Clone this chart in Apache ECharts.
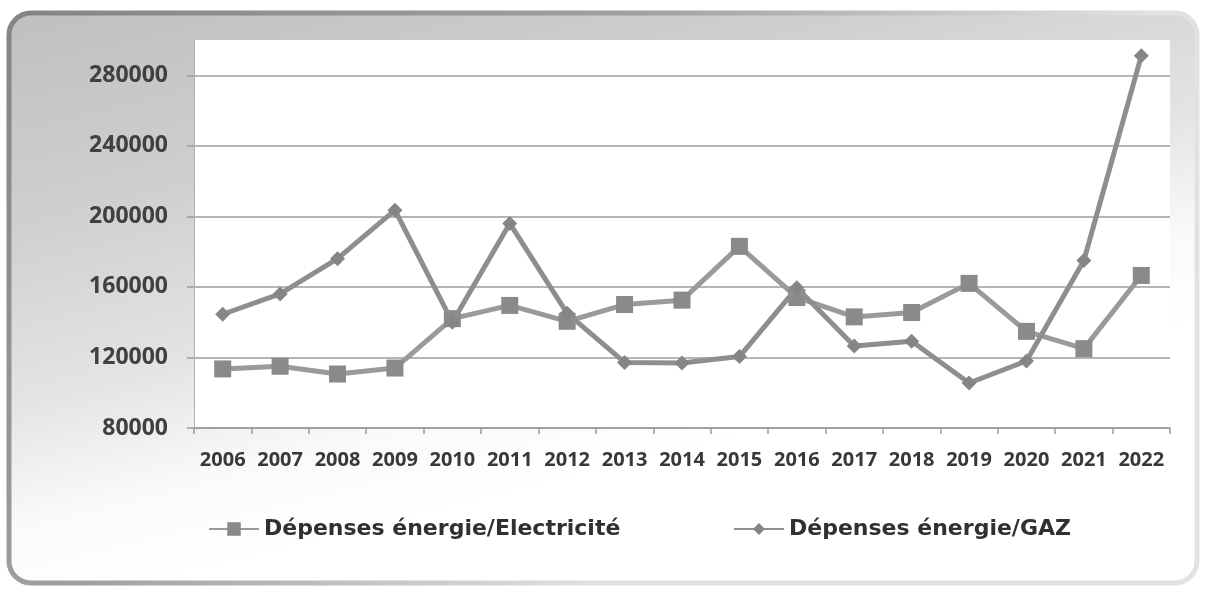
<!DOCTYPE html>
<html>
<head>
<meta charset="utf-8">
<script src="https://cdn.jsdelivr.net/npm/echarts@6/dist/echarts.min.js"></script>
<style>
  html, body { margin: 0; padding: 0; background: #ffffff; }
  #chart { width: 1206px; height: 592px; }
</style>
</head>
<body>
<div id="chart"></div>
<script>
// Yearly energy spending, electricity vs gas
const years = ['2006', '2007', '2008', '2009', '2010', '2011', '2012', '2013', '2014',
  '2015', '2016', '2017', '2018', '2019', '2020', '2021', '2022'];
const electricite = [113500, 115000, 110600, 114000, 142000, 149500, 140500, 150000, 152500,
  183000, 154000, 143000, 145500, 162000, 134800, 125000, 166500];
const gaz = [144500, 156000, 176000, 203500, 140000, 196000, 145000, 117200, 116800,
  120500, 159500, 126500, 129200, 105500, 118000, 175000, 291000];
const seriesNames = ['Dépenses énergie/Electricité', 'Dépenses énergie/GAZ'];

const chart = echarts.init(document.getElementById('chart'), null, { renderer: 'canvas' });

const axisFont = '"Open Sans", Lato, sans-serif';
const legendFont = '"DejaVu Sans", Lato, sans-serif';

chart.setOption({
  animation: false,
  graphic: [
    {
      // rounded chart frame with grey-to-white fill
      type: 'rect',
      z: -10,
      shape: { x: 9, y: 13, width: 1188, height: 570, r: 22 },
      style: {
        fill: {
          type: 'linear', x: 0, y: 0, x2: 0.12, y2: 1,
          colorStops: [
            { offset: 0, color: '#bfbfbf' },
            { offset: 0.35, color: '#cfcfcf' },
            { offset: 0.65, color: '#e4e4e4' },
            { offset: 0.85, color: '#fafafa' },
            { offset: 1, color: '#ffffff' }
          ]
        },
        stroke: {
          type: 'linear', x: 0, y: 0, x2: 0.5, y2: 1,
          colorStops: [
            { offset: 0, color: '#848484' },
            { offset: 0.55, color: '#a0a0a0' },
            { offset: 1, color: '#e2e2e2' }
          ]
        },
        lineWidth: 5
      }
    }
  ],
  grid: {
    left: 194, right: 36, top: 40, bottom: 164,
    show: true,
    backgroundColor: '#ffffff',
    borderWidth: 0
  },
  legend: [
    {
      data: [seriesNames[0]],
      left: 203, top: 513,
      itemWidth: 50, itemHeight: 17,
      itemGap: 0,
      textStyle: { fontFamily: legendFont, fontWeight: 'bold', fontSize: 22, color: '#303030' }
    },
    {
      data: [seriesNames[1]],
      left: 728, top: 513,
      itemWidth: 50, itemHeight: 15,
      itemGap: 0,
      textStyle: { fontFamily: legendFont, fontWeight: 'bold', fontSize: 22, color: '#303030' }
    }
  ],
  xAxis: {
    type: 'category',
    data: years,
    boundaryGap: true,
    axisLine: { show: true, lineStyle: { color: '#9a9a9a', width: 1.5 } },
    axisTick: { show: true, length: 6, inside: false, lineStyle: { color: '#9a9a9a', width: 1.5 } },
    axisLabel: {
      interval: 0, margin: 22,
      fontFamily: axisFont, fontWeight: 'bold', fontSize: 20, color: '#383838'
    },
    splitLine: { show: false }
  },
  yAxis: {
    type: 'value',
    min: 80000, max: 300000, interval: 40000,
    axisLine: { show: true, lineStyle: { color: '#b0b0b0', width: 1 } },
    axisTick: { show: true, length: 7, lineStyle: { color: '#9a9a9a', width: 1.5 } },
    axisLabel: {
      showMaxLabel: false, margin: 26,
      formatter: (v) => String(v),
      fontFamily: axisFont, fontWeight: 'bold', fontSize: 23, color: '#404040'
    },
    splitLine: {
      show: true, showMaxLine: false,
      lineStyle: { color: '#9c9c9c', width: 1.5 }
    }
  },
  series: [
    {
      name: seriesNames[0],
      type: 'line',
      data: electricite,
      symbol: 'rect',
      symbolSize: 17,
      lineStyle: { color: '#9a9a9a', width: 5 },
      itemStyle: { color: '#8a8a8a', borderColor: '#8a8a8a', borderWidth: 0 },
      emphasis: { disabled: true },
      z: 2
    },
    {
      name: seriesNames[1],
      type: 'line',
      data: gaz,
      symbol: 'diamond',
      symbolSize: 15,
      lineStyle: { color: '#8e8e8e', width: 5 },
      itemStyle: { color: '#858585', borderColor: '#858585', borderWidth: 0 },
      emphasis: { disabled: true },
      z: 3
    }
  ]
});
</script>
</body>
</html>
